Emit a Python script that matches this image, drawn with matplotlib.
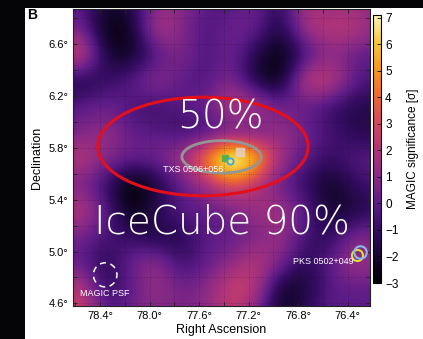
import matplotlib
matplotlib.use("Agg")
import matplotlib.pyplot as plt
import numpy as np
from matplotlib.patches import Ellipse, Rectangle
from matplotlib.colors import LinearSegmentedColormap

# ---- data ----
ra_nodes = [78.55, 78.35, 78.15, 77.95, 77.75, 77.55, 77.35, 77.15, 76.95, 76.75, 76.55, 76.35, 76.15]
dec_nodes = [6.92, 6.72, 6.52, 6.32, 6.12, 5.92, 5.72, 5.52, 5.32, 5.12, 4.92, 4.72, 4.52]
significance = [
    [0.0, -2.0, -1.5, 1.0, 1.0, 0.0, -0.5, 0.5, -1.5, 2.0, 1.0, 1.5, 0.5],
    [0.5, -3.0, -2.5, 2.5, 1.0, -0.5, 0.5, 0.5, -2.0, 2.0, 2.5, 2.5, 1.0],
    [3.5, -2.0, -2.5, -0.5, 1.0, -0.5, 0.5, -1.5, -3.0, -1.0, 1.0, 0.0, 0.0],
    [-2.0, -1.0, 0.0, 1.5, 0.0, -0.5, 1.0, -2.0, -3.0, 3.0, 3.0, 0.0, -0.5],
    [0.0, 0.5, -0.5, -1.0, 0.0, 0.5, 2.5, 2.5, 0.5, 0.0, -1.0, -1.5, -1.5],
    [0.5, 1.5, 0.0, 0.0, -1.0, -1.0, -0.5, -0.5, 1.5, 0.5, -0.5, -1.5, -1.5],
    [2.5, 1.0, 0.5, 0.5, 2.0, 5.0, 10.0, 7.0, 1.5, 0.0, -1.0, 0.0, 0.0],
    [0.5, -1.0, -3.5, -2.0, 0.0, 1.5, 3.5, 2.0, 0.0, -1.0, -2.5, -1.0, -0.5],
    [2.5, 0.0, -3.0, -1.0, 0.0, 0.0, 0.5, 1.5, 2.0, 0.0, -2.0, -2.0, -1.0],
    [0.5, -0.5, -1.0, -2.0, -1.5, 0.0, 0.0, 0.5, 1.5, -0.5, -1.5, 1.0, 0.5],
    [0.0, -1.5, 0.5, 1.5, -1.0, 0.0, 1.0, 2.5, 1.0, -1.5, 0.0, 2.0, 1.0],
    [2.5, -1.5, 0.0, 1.5, 0.5, 1.0, 3.0, 2.5, -2.5, -2.0, 0.0, 0.0, 0.0],
    [3.0, 0.0, 0.5, 1.0, 0.5, 1.0, 2.5, 1.0, -2.5, -1.0, 0.0, 0.0, 0.0],
]

x_ticks = [78.4, 78.0, 77.6, 77.2, 76.8, 76.4]
x_ticklabels = ["78.4°", "78.0°", "77.6°", "77.2°", "76.8°", "76.4°"]
y_ticks = [4.6, 5.0, 5.4, 5.8, 6.2, 6.6]
y_ticklabels = ["4.6°", "5.0°", "5.4°", "5.8°", "6.2°", "6.6°"]
cbar_ticks = [-3, -2, -1, 0, 1, 2, 3, 4, 5, 6, 7]

# contours (center RA, center Dec, full width, full height)
icecube90 = (77.57, 5.81, 1.70, 0.76)
icecube50 = (77.42, 5.73, 0.64, 0.25)
psf_circle = (78.36, 4.82, 0.19, 0.186)

# source markers
txs_green = (77.39, 5.72)
txs_cyan = (77.35, 5.70)
txs_pink = (77.27, 5.765)
pks_blue = (76.30, 5.00)
pks_yellow = (76.325, 4.975)

labels = [
    ("TXS 0506+056", 77.65, 5.63),
    ("PKS 0502+049", 76.60, 4.925),
    ("MAGIC PSF", 78.36, 4.68),
]
big_labels = [("50%", 77.43, 6.03), ("IceCube 90%", 77.42, 5.22)]

# ---- figure ----
fig = plt.figure(figsize=(4.23, 3.39), dpi=100)
fig.patch.set_facecolor("#050508")
fig.patches.append(Rectangle((25 / 423, 0), 1 - 25 / 423, (339 - 8) / 339,
                             transform=fig.transFigure, facecolor="white",
                             edgecolor="none", zorder=-5))

ax = fig.add_axes([73 / 423, (339 - 306) / 339, (370 - 73) / 423, (306 - 9) / 339])
cax = fig.add_axes([373 / 423, (339 - 283) / 339, 8 / 423, (283 - 15) / 339])

cmap = LinearSegmentedColormap.from_list("magicmap", [
    (0.0, "#000000"),
    (0.1, "#160630"),
    (0.2, "#340c62"),
    (0.3, "#5e1c88"),
    (0.4, "#8a2a86"),
    (0.5, "#b03478"),
    (0.6, "#d4485c"),
    (0.7, "#ec6a30"),
    (0.8, "#f6981c"),
    (0.9, "#f4c838"),
    (1.0, "#f9f6b8"),
])

dra = 0.2
ddec = 0.2
extent = [ra_nodes[0] + dra / 2, ra_nodes[-1] - dra / 2,
          dec_nodes[-1] - ddec / 2, dec_nodes[0] + ddec / 2]
im = ax.imshow(np.array(significance), extent=extent, origin="upper",
               cmap=cmap, vmin=-3, vmax=7.1, interpolation="bicubic",
               aspect="auto", zorder=1)
ax.set_xlim(78.62, 76.22)
ax.set_ylim(4.58, 6.87)

# grid + ticks
ax.set_xticks(x_ticks)
ax.set_xticklabels(x_ticklabels)
ax.set_yticks(y_ticks)
ax.set_yticklabels(y_ticklabels)
ax.set_xticks(np.arange(76.4, 78.7, 0.2), minor=True)
ax.set_yticks(np.arange(4.6, 6.9, 0.2), minor=True)
ax.tick_params(which="both", direction="in", top=True, right=True,
               length=3, width=0.6, color="#222222", labelsize=8)
ax.grid(which="both", linestyle=(0, (1, 2.5)), color="#1a0a20", linewidth=0.5,
        alpha=0.5, zorder=2)
ax.set_axisbelow(False)
for s in ax.spines.values():
    s.set_linewidth(0.8)
    s.set_color("#222222")
for lab in ax.get_xticklabels() + ax.get_yticklabels():
    lab.set_family("Liberation Sans")
ax.set_xlabel("Right Ascension", fontsize=9, family="Liberation Sans", labelpad=2)
ax.set_ylabel("Declination", fontsize=9, family="Liberation Sans", labelpad=4)

# contours
e90 = Ellipse(icecube90[:2], icecube90[2], icecube90[3], fill=False,
              edgecolor="#e3101c", linewidth=2.2, zorder=4)
ax.add_patch(e90)
e50 = Ellipse(icecube50[:2], icecube50[2], icecube50[3], fill=False,
              edgecolor="#959595", linewidth=2.0, zorder=4)
ax.add_patch(e50)
psf = Ellipse(psf_circle[:2], psf_circle[2], psf_circle[3], fill=False,
              edgecolor="white", linewidth=1.1, linestyle=(0, (4, 3)), zorder=4)
ax.add_patch(psf)

# markers
ax.plot(*txs_green, marker="s", markersize=5, color="#5bb043", zorder=5)
ax.plot(*txs_pink, marker="s", markersize=6, color="#e6cfc0", alpha=0.85, zorder=5)
ax.plot(*txs_cyan, marker="o", markersize=4.5, markerfacecolor="#f0e070",
        markeredgecolor="#3ba6e0", markeredgewidth=1.3, zorder=6)
ax.plot(*pks_yellow, marker="o", markersize=8, markerfacecolor="none",
        markeredgecolor="#d8e030", markeredgewidth=1.5, zorder=5)
ax.plot(*pks_blue, marker="o", markersize=9, markerfacecolor="none",
        markeredgecolor="#8ab8ea", markeredgewidth=1.5, zorder=6)

for txt, x, y in labels:
    ax.text(x, y, txt, color="white", fontsize=6.5, family="Liberation Sans",
            ha="center", va="center", zorder=7)
for txt, x, y in big_labels:
    ax.text(x, y, txt, color="white", fontsize=28, family="DejaVu Sans",
            fontweight="light", ha="center", va="center", zorder=7)

# colorbar
cb = fig.colorbar(im, cax=cax, ticks=cbar_ticks)
cb.outline.set_linewidth(0.8)
cax.tick_params(direction="in", length=3, width=0.6, labelsize=8.5, pad=3)
for lab in cax.get_yticklabels():
    lab.set_family("Liberation Sans")
cb.set_label("MAGIC significance [σ]", fontsize=8.5, family="Liberation Sans", labelpad=6)

fig.text(27 / 423, 1 - 15 / 339, "B", fontsize=10, fontweight="bold",
         family="Liberation Sans", va="center", ha="left")

fig.savefig("out.png", dpi=100, facecolor=fig.get_facecolor())
